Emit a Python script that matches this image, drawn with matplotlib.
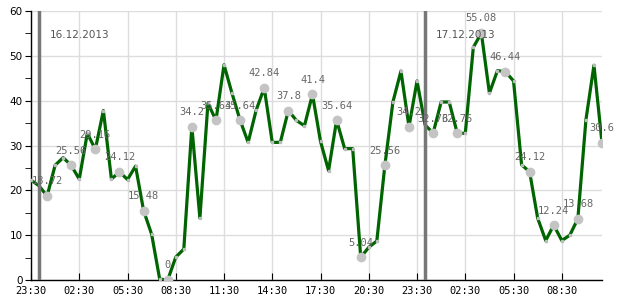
import matplotlib
matplotlib.use("Agg")
import matplotlib.pyplot as plt
import matplotlib.dates as mdates
import pandas as pd

# half-hourly readings, 15.12.2013 23:30 .. 17.12.2013 11:00
start = "2013-12-15 23:30"
values = [22.3, 21.0, 18.72, 25.6, 27.3, 25.56, 22.5, 32.7, 29.16, 37.8,
          22.5, 24.12, 22.4, 25.4, 15.48, 10.2, 0.2, 0.0, 5.1, 6.9,
          34.2, 13.8, 39.4, 35.64, 48.0, 41.6, 35.64, 30.7, 37.9, 42.84,
          30.7, 30.7, 37.8, 35.6, 34.4, 41.4, 30.9, 24.4, 35.64, 29.3,
          29.3, 5.04, 7.3, 8.7, 25.56, 39.7, 46.6, 34.2, 44.4, 34.6,
          32.76, 39.7, 39.7, 32.76, 32.7, 51.9, 55.08, 41.7, 46.7, 46.44,
          44.4, 25.7, 24.12, 13.8, 8.8, 12.24, 8.8, 10.0, 13.68, 35.7,
          47.9, 30.6]
label_every = 3
label_first = 2
day_marks = ["2013-12-16 00:00", "2013-12-17 00:00"]
day_labels = ["16.12.2013", "17.12.2013"]
tick_start, tick_end = "2013-12-15 23:30", "2013-12-17 08:30"

times = pd.date_range(start, periods=len(values), freq="30min")

fig = plt.figure(figsize=(6.2, 3.0), dpi=100)
ax = fig.add_axes([31/620, 20/300, 571/620, 269/300])

ax.plot(times, values, color="#006400", lw=2.3, zorder=3,
        marker="s", markersize=2, markerfacecolor="#bbbbbb", markeredgecolor="#bbbbbb")

lab_t = times[label_first::label_every]
lab_v = values[label_first::label_every]
ax.plot(lab_t, lab_v, "o", color="#c4c4c4", markersize=6, zorder=4)
for t, v in zip(lab_t, lab_v):
    ax.annotate("%g" % v, (t, v), xytext=(0, 10.5), textcoords="offset points",
                ha="center", va="center", fontsize=7.5, family="DejaVu Sans Mono",
                color="#666666", zorder=6)

for d, txt in zip(day_marks, day_labels):
    d = pd.Timestamp(d)
    ax.axvline(d, color="#777777", lw=2.5, zorder=5)
    ax.annotate(txt, (mdates.date2num(d), 1), xycoords=("data", "axes fraction"),
                xytext=(8, -17), textcoords="offset points", ha="left", va="center",
                fontsize=7.5, color="#555555", zorder=6)

ax.set_xlim(times[0], times[-1])
ax.set_ylim(0, 60)
ax.set_yticks(range(0, 61, 10))
ax.set_yticks(range(5, 60, 10), minor=True)
ax.set_xticks(pd.date_range(tick_start, tick_end, freq="3h"))
ax.xaxis.set_major_formatter(mdates.DateFormatter("%H:%M"))
ax.grid(True, color="#dddddd", lw=1, zorder=0)
ax.set_axisbelow(True)

for s in ["top", "right"]:
    ax.spines[s].set_visible(False)
ax.spines["left"].set_linewidth(1)
ax.spines["bottom"].set_linewidth(1)
ax.tick_params(axis="y", which="both", direction="out", length=4, labelsize=7.5, pad=2)
ax.tick_params(axis="x", direction="in", length=5, labelsize=7.5, pad=4)
for lbl in ax.get_xticklabels():
    lbl.set_family("DejaVu Sans Mono")

fig.savefig("out.png", dpi=100)
